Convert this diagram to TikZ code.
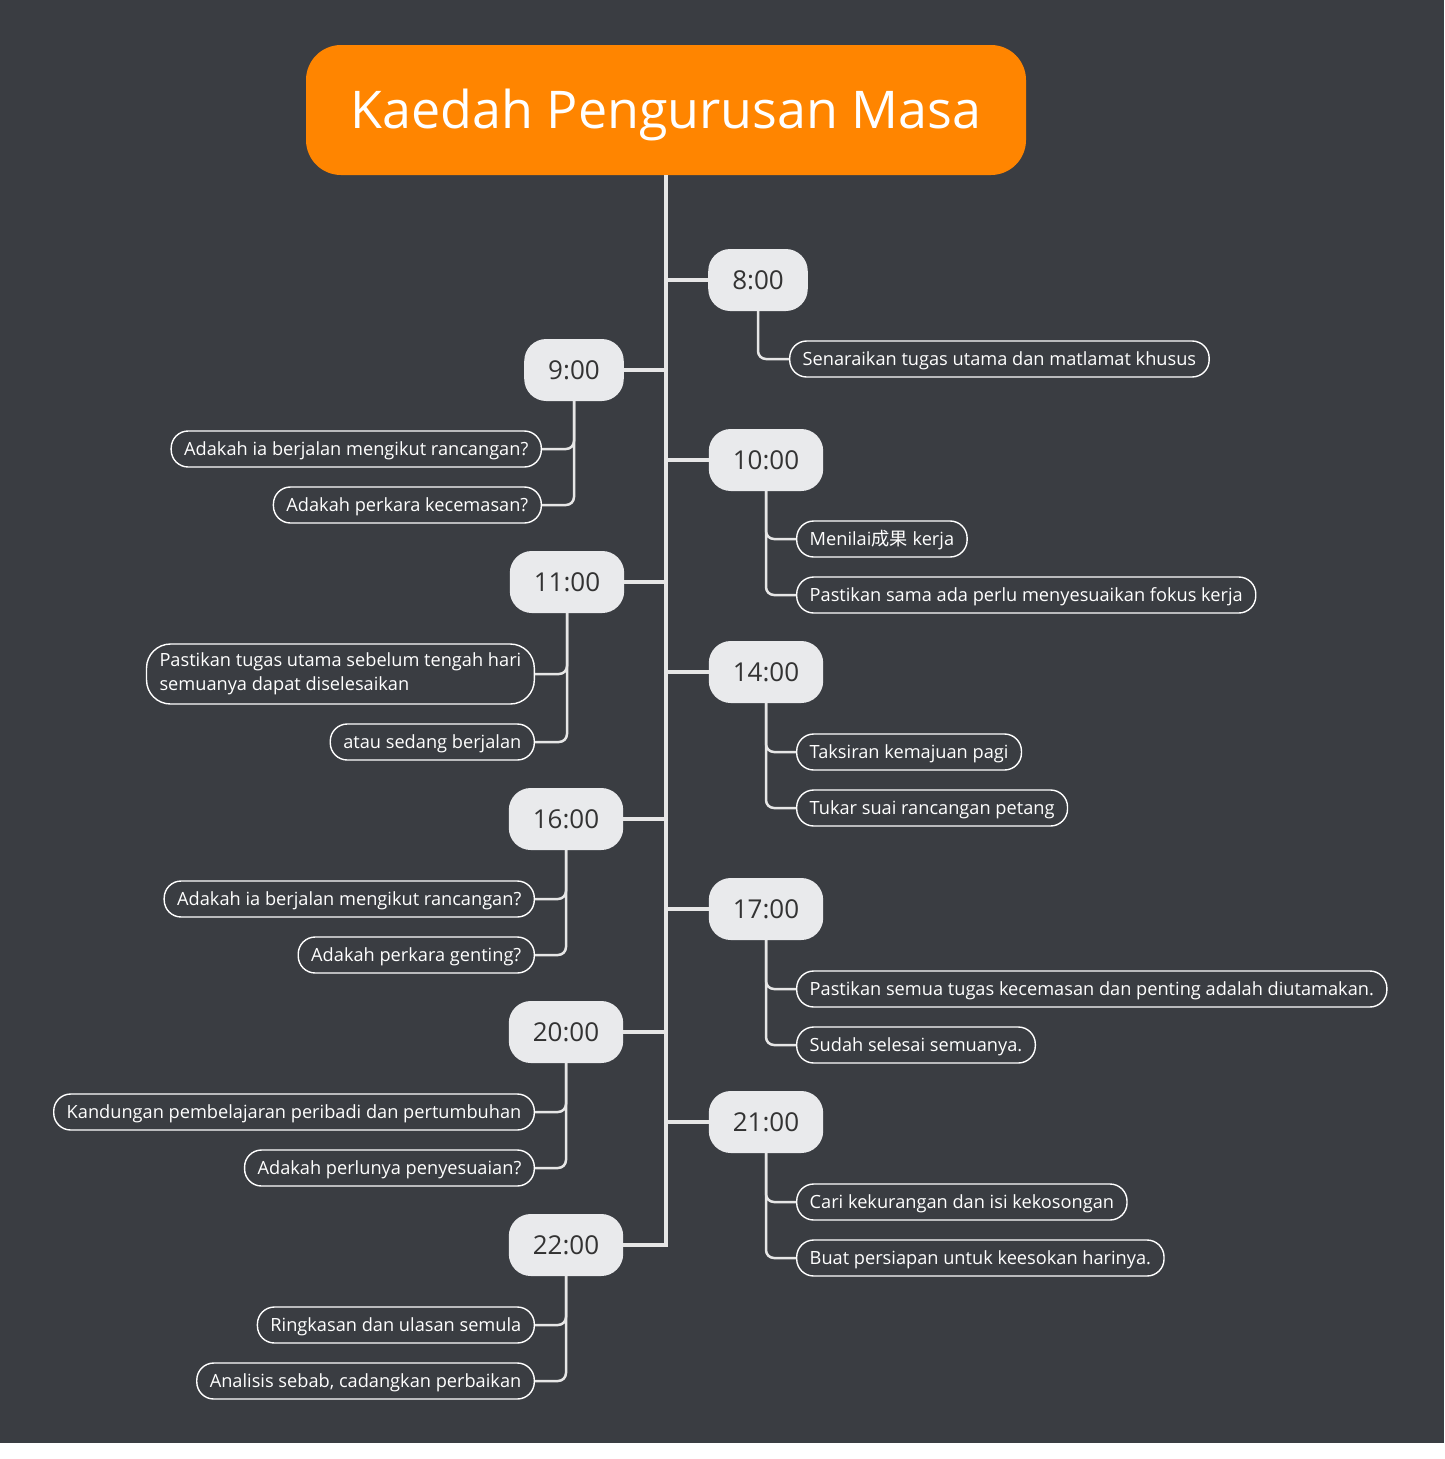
\documentclass[tikz,border=0pt]{standalone}
\usepackage{fontspec}
\setmainfont{Open Sans}
\newfontfamily\cjk{Noto Sans CJK SC}
\usetikzlibrary{positioning, calc}
\definecolor{bgdark}{RGB}{58,61,66}
\definecolor{headorange}{RGB}{255,133,0}
\definecolor{slotgray}{RGB}{233,234,236}
\definecolor{linegray}{RGB}{230,230,230}
\definecolor{textdark}{RGB}{51,51,51}

\begin{document}
\begin{tikzpicture}[x=1pt, y=-1pt,
            head/.style={rectangle, fill=headorange, text=white, rounded corners=35, minimum width=720, minimum height=130, inner sep=0, text height=37pt, text depth=0pt, font=\fontsize{52}{60}\selectfont},
            slot/.style={rectangle, fill=slotgray, text=textdark, rounded corners=22, minimum height=62, inner xsep=24, inner ysep=0, font=\fontsize{26}{30}\selectfont},
            leaf/.style={rectangle, draw=white, line width=1.4, text=white, rounded corners=17, minimum height=36, inner xsep=13, inner ysep=0, text height=13pt, text depth=0pt, font=\fontsize{18.2}{24}\selectfont},
            trunk/.style={draw=linegray, line width=4},
            twig/.style={draw=linegray, line width=2.5, rounded corners=8}
        ]
        % Page and background
        \useasboundingbox (0,0) rectangle (1444,1459);
        \fill[white] (0,0) rectangle (1444,1459);
        \fill[bgdark] (0,0) rectangle (1444,1443);
        % Title
        \node[head] (head) at (666,110) {Kaedah Pengurusan Masa};
        % Time slots (right side)
        \node[slot] (s8) at (758,280) {8:00};
        \node[slot] (s10) at (766,460) {10:00};
        \node[slot] (s14) at (766,672) {14:00};
        \node[slot] (s17) at (766,909) {17:00};
        \node[slot] (s21) at (766,1122) {21:00};
        % Time slots (left side)
        \node[slot] (s9) at (574,370) {9:00};
        \node[slot] (s11) at (567,582) {11:00};
        \node[slot] (s16) at (566,819) {16:00};
        \node[slot] (s20) at (566,1032) {20:00};
        \node[slot] (s22) at (566,1245) {22:00};
        % Tasks (right side)
        \node[leaf, anchor=west] (t8a) at (789,359) {Senaraikan tugas utama dan matlamat khusus};
        \node[leaf, anchor=west] (t10a) at (796,539) {Menilai{\cjk 成果} kerja};
        \node[leaf, anchor=west] (t10b) at (796,595) {Pastikan sama ada perlu menyesuaikan fokus kerja};
        \node[leaf, anchor=west] (t14a) at (796,752) {Taksiran kemajuan pagi};
        \node[leaf, anchor=west] (t14b) at (796,808) {Tukar suai rancangan petang};
        \node[leaf, anchor=west] (t17a) at (796,989) {Pastikan semua tugas kecemasan dan penting adalah diutamakan.};
        \node[leaf, anchor=west] (t17b) at (796,1045) {Sudah selesai semuanya.};
        \node[leaf, anchor=west] (t21a) at (796,1202) {Cari kekurangan dan isi kekosongan};
        \node[leaf, anchor=west] (t21b) at (796,1258) {Buat persiapan untuk keesokan harinya.};
        % Tasks (left side)
        \node[leaf, anchor=east] (t9a) at (542,449) {Adakah ia berjalan mengikut rancangan?};
        \node[leaf, anchor=east] (t9b) at (542,505) {Adakah perkara kecemasan?};
        \node[leaf, anchor=east, align=left, text height=, text depth=, minimum height=60, rounded corners=24] (t11a) at (535,674) {Pastikan tugas utama sebelum tengah hari\\semuanya dapat diselesaikan};
        \node[leaf, anchor=east] (t11b) at (535,742) {atau sedang berjalan};
        \node[leaf, anchor=east] (t16a) at (535,899) {Adakah ia berjalan mengikut rancangan?};
        \node[leaf, anchor=east] (t16b) at (535,955) {Adakah perkara genting?};
        \node[leaf, anchor=east] (t20a) at (535,1112) {Kandungan pembelajaran peribadi dan pertumbuhan};
        \node[leaf, anchor=east] (t20b) at (535,1168) {Adakah perlunya penyesuaian?};
        \node[leaf, anchor=east] (t22a) at (535,1325) {Ringkasan dan ulasan semula};
        \node[leaf, anchor=east] (t22b) at (535,1381) {Analisis sebab, cadangkan perbaikan};
        % Main line and branches
        \draw[trunk] (head.south) |- (s22.east);
        \draw[trunk] (s8.west) -- (s8.west -| head.south);
        \draw[trunk] (s10.west) -- (s10.west -| head.south);
        \draw[trunk] (s14.west) -- (s14.west -| head.south);
        \draw[trunk] (s17.west) -- (s17.west -| head.south);
        \draw[trunk] (s21.west) -- (s21.west -| head.south);
        \draw[trunk] (s9.east) -- (s9.east -| head.south);
        \draw[trunk] (s11.east) -- (s11.east -| head.south);
        \draw[trunk] (s16.east) -- (s16.east -| head.south);
        \draw[trunk] (s20.east) -- (s20.east -| head.south);
        % Slot to task connectors
        \draw[twig] (s8.south) |- (t8a.west);
        \draw[twig] (s10.south) |- (t10a.west);
        \draw[twig] (s10.south) |- (t10b.west);
        \draw[twig] (s14.south) |- (t14a.west);
        \draw[twig] (s14.south) |- (t14b.west);
        \draw[twig] (s17.south) |- (t17a.west);
        \draw[twig] (s17.south) |- (t17b.west);
        \draw[twig] (s21.south) |- (t21a.west);
        \draw[twig] (s21.south) |- (t21b.west);
        \draw[twig] (s9.south) |- (t9a.east);
        \draw[twig] (s9.south) |- (t9b.east);
        \draw[twig] (s11.south) |- (t11a.east);
        \draw[twig] (s11.south) |- (t11b.east);
        \draw[twig] (s16.south) |- (t16a.east);
        \draw[twig] (s16.south) |- (t16b.east);
        \draw[twig] (s20.south) |- (t20a.east);
        \draw[twig] (s20.south) |- (t20b.east);
        \draw[twig] (s22.south) |- (t22a.east);
        \draw[twig] (s22.south) |- (t22b.east);
        \end{tikzpicture}
\end{document}
